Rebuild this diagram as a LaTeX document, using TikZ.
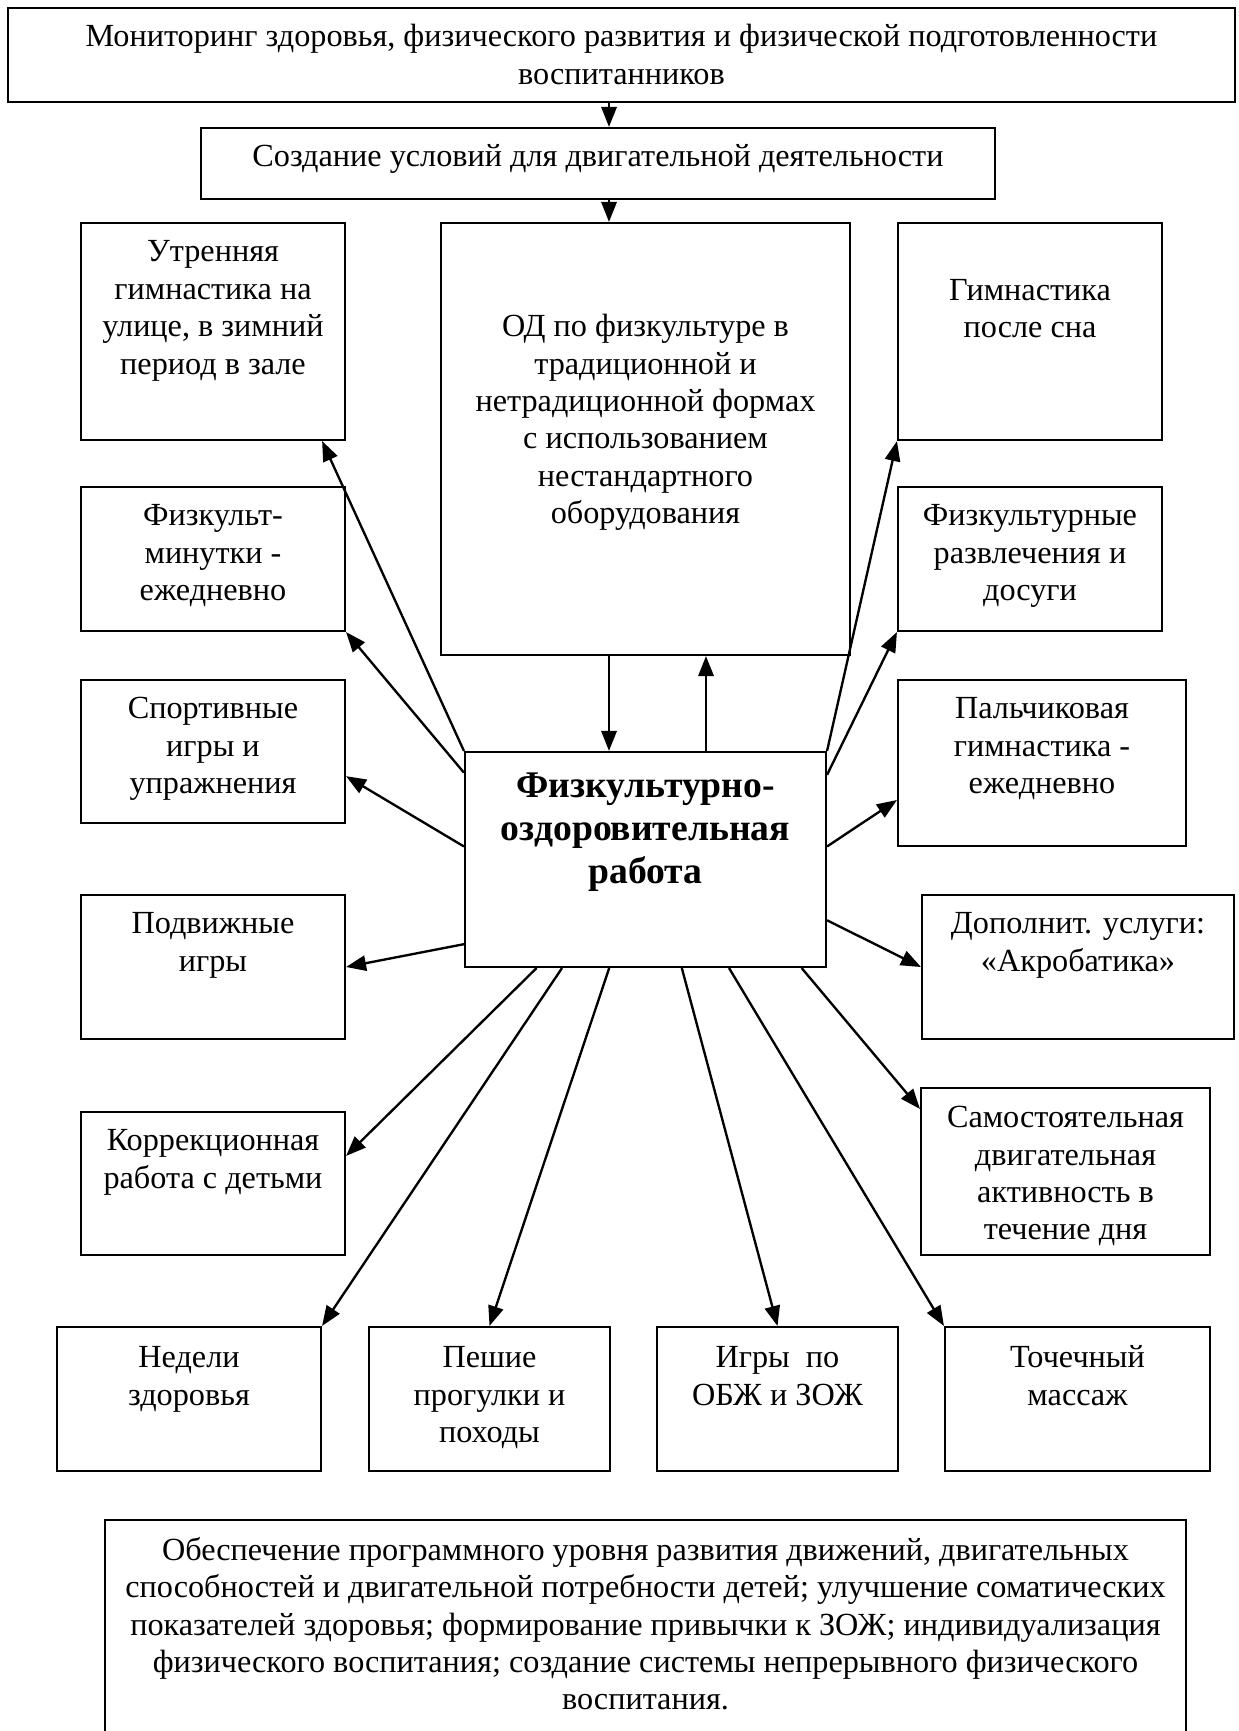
\documentclass[tikz,border=0pt]{standalone}
\usepackage{fontspec}
\setmainfont{Liberation Serif}
\usetikzlibrary{positioning,fit,calc,arrows.meta}

\tikzset{
  blk/.style={draw, line width=0.9pt, inner sep=0pt},
  txt/.style={align=center, inner sep=0pt, font=\fontsize{13.7}{15.9}\selectfont},
  bigtxt/.style={align=center, inner sep=0pt, font=\fontsize{16}{18.4}\selectfont\bfseries},
  arr/.style={line width=1pt, -{Triangle[length=8.5pt,width=6.5pt]}}
}

\begin{document}
\begin{tikzpicture}[x=0.425pt,y=-0.425pt]

\useasboundingbox (0,0) rectangle (1239,1731);
\clip (0,0) rectangle (1239,1731);

% top
\node[blk, fit={(8,8) (1235,102)}] (mon) {};
\node[txt, below=5.6pt of mon.north] (mon-t) {\strut Мониторинг здоровья, физического развития и физической подготовленности\\воспитанников};

\node[blk, fit={(201,128) (995,199)}] (cond) {};
\node[txt, below=5.6pt of cond.north] (cond-t) {\strut Создание условий для двигательной деятельности};

\node[blk, fit={(441,223) (850,655)}] (od) {};
\node[txt, below=37.4pt of od.north] (od-t) {\strut ОД по физкультуре в\\традиционной и\\нетрадиционной формах\\с использованием\\нестандартного\\оборудования};

% centre
\node[blk, fit={(465,752) (826,967)}] (work) {};
\node[bigtxt, below=6.6pt of work.north] (work-t) {\strut Физкультурно-\\оздоровительная\\работа};

% left column
\node[blk, fit={(81,223) (345,440)}] (morn) {};
\node[txt, below=5.6pt of morn.north] (morn-t) {\strut Утренняя\\гимнастика на\\улице, в зимний\\период в зале};

\node[blk, fit={(81,487) (345,631)}] (mins) {};
\node[txt, below=5.6pt of mins.north] (mins-t) {\strut Физкульт-\\минутки -\\ежедневно};

\node[blk, fit={(81,680) (345,823)}] (sport) {};
\node[txt, below=5.6pt of sport.north] (sport-t) {\strut Спортивные\\игры и\\упражнения};

\node[blk, fit={(81,895) (345,1039)}] (play) {};
\node[txt, below=5.6pt of play.north] (play-t) {\strut Подвижные\\игры};

\node[blk, fit={(81,1112) (345,1255)}] (corr) {};
\node[txt, below=5.6pt of corr.north] (corr-t) {\strut Коррекционная\\работа с детьми};

% right column
\node[blk, fit={(898,223) (1162,440)}] (nap) {};
\node[txt, below=22pt of nap.north] (nap-t) {\strut Гимнастика\\после сна};

\node[blk, fit={(898,487) (1162,631)}] (fun) {};
\node[txt, below=5.6pt of fun.north] (fun-t) {\strut Физкультурные\\развлечения и\\досуги};

\node[blk, fit={(898,680) (1186,846)}] (finger) {};
\node[txt, below=5.6pt of finger.north] (finger-t) {\strut Пальчиковая\\гимнастика -\\ежедневно};

\node[blk, fit={(922,895) (1234,1039)}] (extra) {};
\node[txt, below=5.6pt of extra.north] (extra-t) {\strut Дополнит. услуги:\\«Акробатика»};

\node[blk, fit={(921,1088) (1210,1255)}] (self) {};
\node[txt, below=6pt of self.north] (self-t) {\strut Самостоятельная\\двигательная\\активность в\\течение дня};

% bottom row
\node[blk, fit={(57,1327) (321,1471)}] (weeks) {};
\node[txt, below=6.4pt of weeks.north] (weeks-t) {\strut Недели\\здоровья};

\node[blk, fit={(369,1327) (610,1471)}] (walk) {};
\node[txt, below=6.4pt of walk.north] (walk-t) {\strut Пешие\\прогулки и\\походы};

\node[blk, fit={(657,1327) (898,1471)}] (games) {};
\node[txt, below=6.4pt of games.north] (games-t) {\strut Игры\ \ по\\ОБЖ и ЗОЖ};

\node[blk, fit={(945,1327) (1210,1471)}] (massage) {};
\node[txt, below=6.4pt of massage.north] (massage-t) {\strut Точечный\\массаж};

% result
\node[blk, fit={(105,1520) (1186,1760)}] (goal) {};
\node[txt, below=6.2pt of goal.north] (goal-t) {\strut Обеспечение программного уровня развития движений, двигательных\\способностей и двигательной потребности детей; улучшение соматических\\показателей здоровья; формирование привычки к ЗОЖ; индивидуализация\\физического воспитания; создание системы непрерывного физического\\воспитания.};

% vertical links
\coordinate (down) at (609,0);
\coordinate (up) at (706,0);
\draw[arr] (mon.south -| down) -- (cond.north -| down);
\draw[arr] (cond.south -| down) -- (od.north -| down);
\draw[arr] (od.south -| down) -- (work.north -| down);
\draw[arr] (work.north -| up) -- (od.south -| up);

% to the left
\draw[arr] (work.north west) -- ($(morn.south west)!0.91!(morn.south east)$);
\draw[arr] ($(work.north west)!0.10!(work.south west)$) -- (mins.south east);
\draw[arr] ($(work.north west)!0.44!(work.south west)$) -- ($(sport.north east)!0.67!(sport.south east)$);
\draw[arr] ($(work.north west)!0.89!(work.south west)$) -- (play.east);

% downwards
\draw[arr] ($(work.south west)!0.20!(work.south east)$) -- ($(corr.north east)!0.31!(corr.south east)$);
\draw[arr] ($(work.south west)!0.27!(work.south east)$) -- (weeks.north east);
\draw[arr] ($(work.south west)!0.40!(work.south east)$) -- (walk.north);
\draw[arr] ($(work.south west)!0.60!(work.south east)$) -- (games.north);
\draw[arr] ($(work.south west)!0.73!(work.south east)$) -- (massage.north west);
\draw[arr] ($(work.south west)!0.93!(work.south east)$) -- ($(self.north west)!0.13!(self.south west)$);

% to the right
\draw[arr] (work.north east) -- (nap.south west);
\draw[arr] ($(work.north east)!0.11!(work.south east)$) -- (fun.south west);
\draw[arr] ($(work.north east)!0.44!(work.south east)$) -- ($(finger.north west)!0.72!(finger.south west)$);
\draw[arr] ($(work.north east)!0.78!(work.south east)$) -- (extra.west);

\end{tikzpicture}
\end{document}
